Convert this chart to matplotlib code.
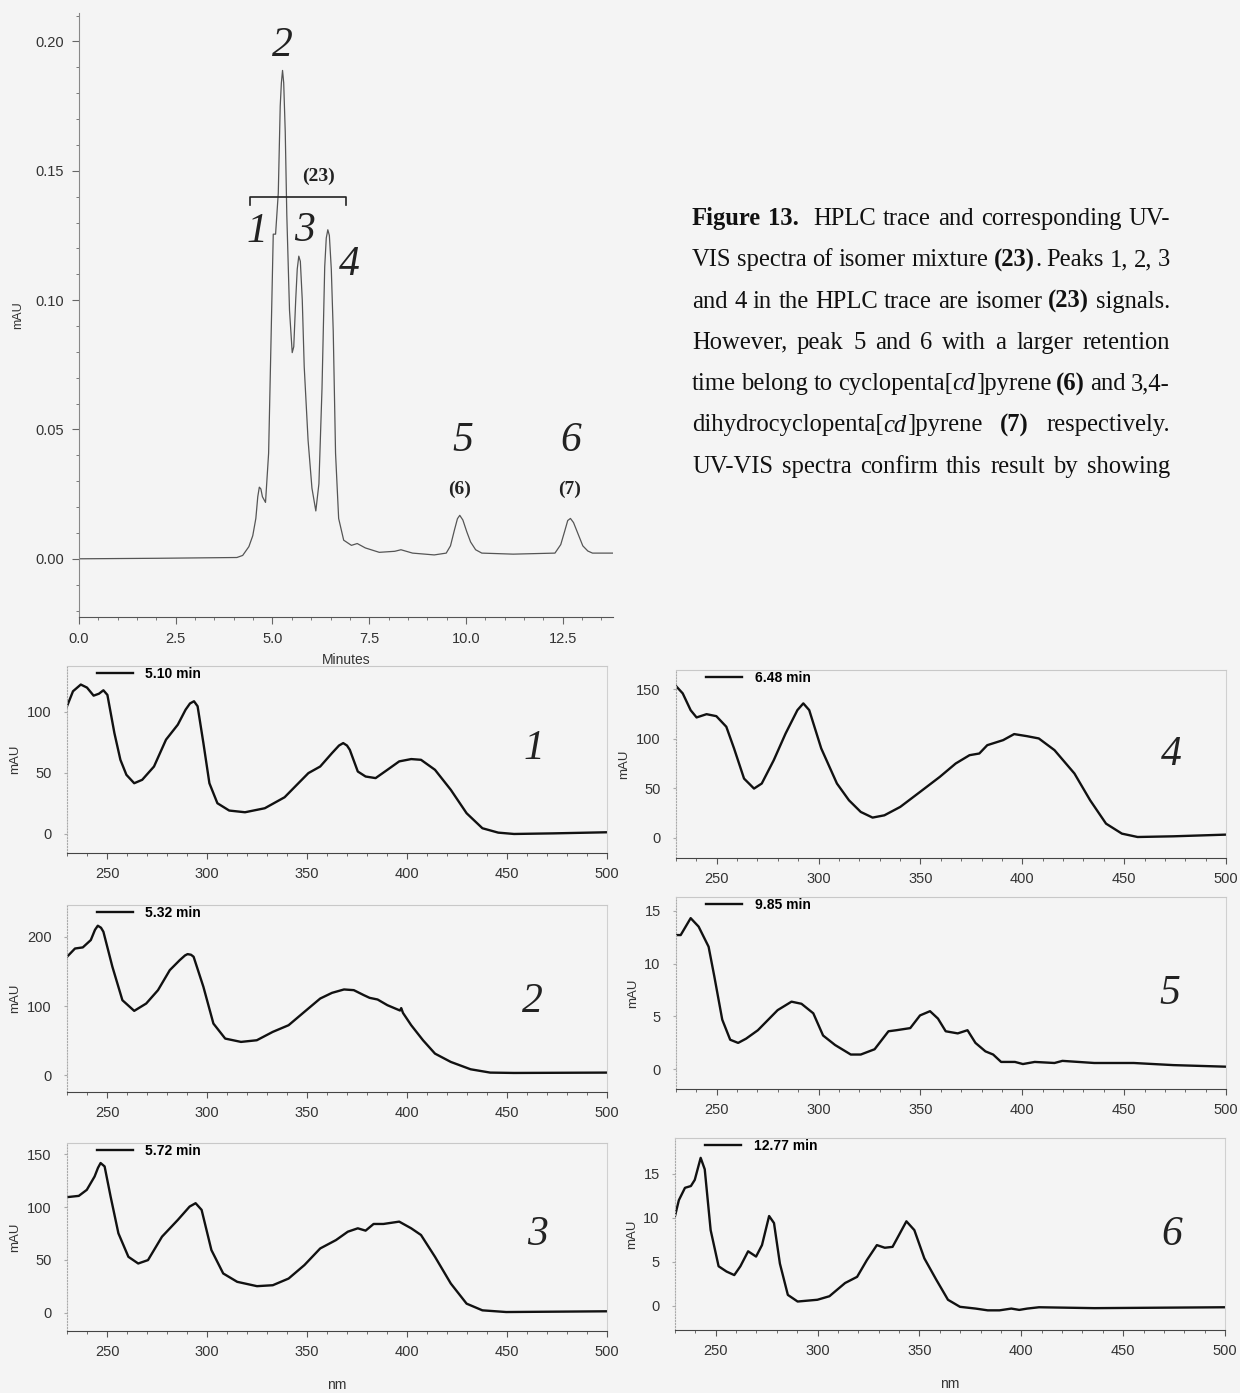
import re
import numpy as np
import matplotlib
matplotlib.use("Agg")
import matplotlib.pyplot as plt
from matplotlib.ticker import MultipleLocator, FormatStrFormatter

W, H = 1240, 1393
BG = '#f4f4f4'
plt.rcParams['font.family'] = ['Liberation Sans', 'DejaVu Sans']

# ---------------- HPLC trace ----------------
hplc_min = [0.0, 2.04, 4.08, 4.23, 4.39, 4.49, 4.57, 4.62, 4.66, 4.70, 4.74, 4.82, 4.90,
            4.96, 5.02, 5.08, 5.15, 5.20, 5.23, 5.26, 5.29, 5.33, 5.37, 5.44, 5.51,
            5.55, 5.60, 5.64, 5.68, 5.72, 5.77, 5.82, 5.92, 6.02, 6.12, 6.20, 6.28,
            6.35, 6.39, 6.43, 6.47, 6.52, 6.57, 6.63, 6.71, 6.84, 7.04, 7.19, 7.40,
            7.76, 8.16, 8.32, 8.62, 9.18, 9.49, 9.60, 9.70, 9.78, 9.84, 9.92, 10.02,
            10.12, 10.25, 10.41, 11.22, 12.30, 12.45, 12.55, 12.63, 12.70, 12.78, 12.90,
            13.02, 13.15, 13.27, 13.8]
hplc_mau = [0.0, 0.0002, 0.0005, 0.0013, 0.0047, 0.0089, 0.0156, 0.024, 0.0277, 0.027,
            0.024, 0.0218, 0.0408, 0.0827, 0.1255, 0.1255, 0.1414, 0.175, 0.184, 0.1888,
            0.184, 0.165, 0.133, 0.0961, 0.0797, 0.082, 0.100, 0.112, 0.117, 0.115,
            0.100, 0.0743, 0.0458, 0.0273, 0.0185, 0.029, 0.0659, 0.1129, 0.124, 0.1272,
            0.125, 0.112, 0.088, 0.0408, 0.0156, 0.0072, 0.0052, 0.0059, 0.0042, 0.0025,
            0.0029, 0.0035, 0.0022, 0.0015, 0.0022, 0.005, 0.011, 0.0155, 0.0168, 0.015,
            0.0105, 0.0065, 0.0035, 0.0022, 0.0018, 0.0022, 0.0055, 0.0106, 0.0148, 0.0156,
            0.014, 0.0095, 0.005, 0.003, 0.0022, 0.0022]

# peak labels on the trace: (text, minutes, mAU)
peak_labels = [('2', 5.26, 0.1985), ('1', 4.59, 0.1263), ('3', 5.82, 0.127),
               ('4', 6.99, 0.1138), ('5', 9.92, 0.0458), ('6', 12.72, 0.0458)]
compound_labels = [('(23)', 6.2, 0.148), ('(6)', 9.83, 0.027), ('(7)', 12.68, 0.027)]

# ---------------- UV-VIS spectra ----------------
nm1 = [230, 233, 236.9, 240, 243.3, 246, 248.2, 250.2, 253.7, 256.7, 259.7, 263.6, 267.6,
       273.5, 279.5, 285.4, 289.3, 291.5, 293.5, 295.3, 298.2, 301.2, 305.2, 311.1, 319,
       328.9, 338.8, 345.7, 350.7, 356.6, 362.5, 366, 368.1, 370, 371.4, 375.4, 379.3,
       384.3, 390.2, 396.1, 402.1, 407, 414, 421.9, 429.8, 437.7, 445.6, 453.5, 473.3, 500]
mau1 = [104.7, 117, 122.5, 120, 113.4, 115, 117.8, 114, 82.7, 60.8, 48.5, 41.6, 44.4,
        55.3, 77.3, 89.6, 101.9, 107, 108.8, 104.7, 74.5, 41.6, 25.2, 19.2, 17.8,
        21.1, 30.1, 41.6, 49.9, 55.3, 66.3, 72.5, 74.5, 72.5, 69.0, 51.2, 47.1,
        45.8, 52.6, 59.5, 61.4, 60.8, 52.6, 36.2, 17.0, 4.7, 1.1, 0.0, 0.5, 1.4]

nm2 = [230, 234, 237.9, 241.9, 244, 245.4, 247, 248.2, 252.7, 257.7, 263.6, 269.6, 275.5,
       281.4, 286.4, 289, 290.3, 292, 293.3, 298.2, 303.2, 309.1, 317, 324.9, 332.9,
       340.8, 348.7, 356.6, 362.5, 368.5, 373.4, 378.4, 381.3, 385.3, 390.2, 396.5, 397.1,
       398, 402.1, 408, 414, 421.9, 431.8, 441.6, 453.5, 500]
mau2 = [171, 183, 184.6, 195.2, 210, 215.9, 213, 207.2, 156.6, 108.4, 93, 103.6, 122.9,
        151.8, 166.3, 173, 174.9, 174, 171.1, 127.7, 74.7, 53, 48.2, 50.6, 62.7,
        72.3, 91.6, 110.8, 119, 123.9, 122.9, 115.7, 111.8, 109.4, 101.2, 93.5, 97,
        90, 72.3, 50.6, 31.3, 19.3, 8.7, 3.9, 3.4, 3.9]

nm3 = [230, 235.9, 239.9, 243.8, 245.5, 246.8, 248.8, 251.8, 255.7, 260.7, 265.6, 270.5,
       277.5, 285.4, 291.3, 294.3, 297.3, 302.2, 308.1, 315.1, 325, 332.9, 340.8, 348.7,
       356.6, 364.5, 370.4, 375.4, 379.3, 383.3, 388.2, 396.1, 402.1, 407, 414, 421.9,
       429.8, 437.7, 449.6, 500]
mau3 = [109.3, 110.5, 116.2, 128.8, 137, 141.5, 138.3, 109.9, 75.2, 53, 46.7, 49.9,
        72, 87.8, 100.4, 103.6, 97.3, 59.4, 37.3, 29.4, 25.3, 26.2, 32.5, 45.2,
        60.9, 68.8, 76.7, 79.9, 77.7, 84, 84, 86.2, 79.9, 73.6, 53, 27.8,
        8.8, 2.5, 0.9, 1.6]

nm4 = [230, 233.3, 237.2, 240.1, 245, 249.8, 254.7, 258.5, 263.4, 268.3, 272.1, 278,
       283.8, 289.6, 292.5, 295.4, 301.3, 309, 314.9, 320.7, 326.5, 332.3, 340.1, 349.8,
       359.5, 367.3, 374.1, 378.9, 382.8, 390.6, 396, 402.3, 408.1, 415.8, 425.6, 433.3,
       441.1, 448.9, 456.6, 474.1, 500]
mau4 = [153.4, 146, 129, 121.7, 125, 123, 112.3, 90.4, 60, 49.9, 55, 78.6,
        105.5, 129.1, 135.9, 129.1, 90.4, 55, 38.1, 26.3, 20.6, 22.9, 31.4, 46.5,
        61.7, 75.2, 83.6, 85.3, 93.7, 98.8, 104.9, 102.8, 100.5, 88.7, 65.1, 38.1,
        14.5, 4.4, 1.0, 1.7, 3.4]

nm5 = [230, 232.3, 237.2, 241.1, 246, 248.8, 252.7, 256.6, 260.5, 264.4, 270.2, 279.9,
       286.7, 291.6, 297.4, 302.2, 308.1, 315.8, 320.7, 327.5, 334.3, 338.2, 345, 349.8,
       354.7, 358.6, 362.4, 368.3, 373.1, 377, 381.9, 385.7, 389.6, 396.4, 400.3, 406.1,
       415.8, 419.7, 435.3, 454.7, 474.1, 500]
mau5 = [12.7, 12.7, 14.3, 13.5, 11.6, 8.8, 4.7, 2.8, 2.5, 2.9, 3.7, 5.6,
        6.4, 6.2, 5.3, 3.2, 2.3, 1.4, 1.4, 1.9, 3.6, 3.7, 3.9, 5.1,
        5.5, 4.8, 3.6, 3.4, 3.7, 2.5, 1.7, 1.4, 0.7, 0.7, 0.5, 0.7,
        0.6, 0.8, 0.6, 0.6, 0.4, 0.25]

nm6 = [230, 231.9, 234.9, 237.8, 239.7, 242.6, 244.6, 247.5, 251.4, 255.3, 259.1, 262.1,
       265.9, 269.8, 272.7, 276.2, 278.6, 281.5, 285.4, 290.2, 299.9, 305.8, 313.5, 319.4,
       324.2, 329.1, 333, 336.8, 343.6, 347.5, 352.4, 358.2, 364, 369.9, 377.6, 383.5,
       389.3, 395.1, 399, 402.9, 408.7, 435.9, 500]
mau6 = [10.2, 12, 13.4, 13.6, 14.3, 16.8, 15.5, 8.6, 4.5, 3.9, 3.5, 4.5,
        6.2, 5.6, 6.9, 10.2, 9.4, 4.8, 1.25, 0.5, 0.7, 1.1, 2.6, 3.3,
        5.2, 6.9, 6.6, 6.7, 9.6, 8.6, 5.4, 3.0, 0.7, -0.1, -0.3, -0.5,
        -0.5, -0.3, -0.45, -0.3, -0.15, -0.25, -0.15]

spec_times = ['5.10', '5.32', '5.72', '6.48', '9.85', '12.77']
spec_names = ['1', '2', '3', '4', '5', '6']

caption = [
    "**Figure 13.**  HPLC trace and corresponding UV-",
    "VIS spectra of isomer mixture **(23)**. Peaks 1, 2, 3",
    "and 4 in the HPLC trace are isomer **(23)** signals.",
    "However, peak 5 and 6 with a larger retention",
    "time belong to cyclopenta[_cd_]pyrene **(6)** and 3,4-",
    "dihydrocyclopenta[_cd_]pyrene **(7)** respectively.",
    "UV-VIS spectra confirm this result by showing",
]


def px_rect(left, top, right, bottom):
    return [left / W, 1 - bottom / H, (right - left) / W, (bottom - top) / H]


fig = plt.figure(figsize=(W / 100, H / 100), dpi=100, facecolor=BG)

# ---------------- top chromatogram ----------------
ax = fig.add_axes(px_rect(79, 13, 613, 617))
ax.set_facecolor('none')
ax.plot(hplc_min, hplc_mau, color='#555555', lw=0.9, solid_joinstyle='round')
ax.set_xlim(0, 13.8)
ax.set_ylim(-0.0225, 0.211)
ax.xaxis.set_major_locator(MultipleLocator(2.5))
ax.xaxis.set_minor_locator(MultipleLocator(0.5))
ax.yaxis.set_major_locator(MultipleLocator(0.05))
ax.yaxis.set_minor_locator(MultipleLocator(0.01))
ax.xaxis.set_major_formatter(FormatStrFormatter('%.1f'))
ax.yaxis.set_major_formatter(FormatStrFormatter('%.2f'))
for s in ['top', 'right']:
    ax.spines[s].set_visible(False)
ax.spines['left'].set_color('#888888')
ax.spines['bottom'].set_color('#555555')
ax.tick_params(which='both', direction='out', colors='#666666', labelcolor='#333333',
               labelsize=10.5)
ax.tick_params(which='major', length=5, pad=6)
ax.tick_params(which='minor', length=2.5)
ax.set_xlabel('Minutes', fontsize=10, color='#333333', labelpad=5)
ax.set_ylabel('mAU', fontsize=9, color='#333333', labelpad=8)

for txt, xx, yy in peak_labels:
    ax.text(xx, yy, txt, fontsize=30, family='Liberation Serif', style='italic',
            ha='center', va='center', color='#222222')
for txt, xx, yy in compound_labels:
    ax.text(xx, yy, txt, fontsize=14, family='Liberation Serif', weight='bold',
            ha='center', va='center', color='#222222')
# bracket over isomer peaks
ax.plot([4.42, 4.42, 6.9, 6.9], [0.1367, 0.1398, 0.1398, 0.1367], color='#222222', lw=1.2)

# ---------------- UV-VIS spectra ----------------
spectra = [
    (nm1, mau1, px_rect(67, 666, 607, 853), (-15.6, 137.7), 50, 0.864, 0.56),
    (nm2, mau2, px_rect(67, 905, 607, 1092), (-24.1, 245.8), 100, 0.861, 0.482),
    (nm3, mau3, px_rect(67, 1143, 607, 1331), (-17, 160.4), 50, 0.872, 0.51),
    (nm4, mau4, px_rect(676, 670, 1226, 858), (-20.2, 169.6), 50, 0.90, 0.547),
    (nm5, mau5, px_rect(676, 897, 1226, 1089), (-1.86, 16.3), 5, 0.897, 0.498),
    (nm6, mau6, px_rect(675, 1138, 1225, 1330), (-2.73, 19.05), 5, 0.903, 0.496),
]

for i, (x, y, rect, ylim, ystep, lx, ly) in enumerate(spectra):
    a = fig.add_axes(rect)
    a.set_facecolor('none')
    a.plot(x, y, color='#111111', lw=1.7, solid_joinstyle='round',
           label=spec_times[i] + ' min')
    a.set_xlim(230, 500)
    a.set_ylim(*ylim)
    a.xaxis.set_major_locator(MultipleLocator(50))
    a.xaxis.set_minor_locator(MultipleLocator(10))
    a.yaxis.set_major_locator(MultipleLocator(ystep))
    a.spines['bottom'].set_color('#444444')
    a.spines['left'].set_color('#aaaaaa')
    a.spines['left'].set_linestyle(':')
    a.spines['top'].set_color('#c8c8c8')
    a.spines['right'].set_color('#d0d0d0')
    for s in ['top', 'right', 'left']:
        a.spines[s].set_linewidth(0.8)
    a.tick_params(axis='x', which='both', direction='out', colors='#555555',
                  labelcolor='#333333', labelsize=10.5)
    a.tick_params(axis='x', which='major', length=4, pad=6)
    a.tick_params(axis='x', which='minor', length=2)
    a.tick_params(axis='y', direction='out', length=2, colors='#aaaaaa',
                  labelcolor='#333333', labelsize=10.5, pad=9)
    a.set_ylabel('mAU', fontsize=9.5, color='#333333', labelpad=4)
    a.legend(loc='upper left', bbox_to_anchor=(0.055, 0.995), frameon=False,
             handlelength=2.6, handletextpad=0.9, borderpad=0, borderaxespad=0,
             prop={'size': 10, 'weight': 'bold'})
    a.text(lx, ly, spec_names[i], transform=a.transAxes, fontsize=30,
           family='Liberation Serif', style='italic', ha='center', va='center',
           color='#222222')
    if i in (2, 5):
        a.set_xlabel('nm', fontsize=10, color='#333333', labelpad=14)

# ---------------- caption (justified) ----------------
renderer = fig.canvas.get_renderer()
x_left, x_right = 692, 1170
for k, line in enumerate(caption):
    base = 225 + 41.3 * k
    words = [[]]
    bold = ital = False
    for tok in re.split(r'(\*\*|_| )', line):
        if tok == '**':
            bold = not bold
        elif tok == '_':
            ital = not ital
        elif tok == ' ':
            words.append([])
        elif tok:
            words[-1].append((tok, bold, ital))
    placed = []
    total = 0
    for w in words:
        runs = []
        for tok, b, it in w:
            t = fig.text(0, 1 - base / H, tok, fontsize=17.7, family='Liberation Serif',
                         weight='bold' if b else 'normal',
                         style='italic' if it else 'normal', va='baseline', color='#111111')
            wd = t.get_window_extent(renderer).width
            runs.append((t, wd))
            total += wd
        placed.append(runs)
    gap = (x_right - x_left - total) / (len(words) - 1)
    xpos = x_left
    for runs in placed:
        for t, wd in runs:
            t.set_x(xpos / W)
            xpos += wd
        xpos += gap

fig.savefig('out.png', dpi=100, facecolor=BG)
